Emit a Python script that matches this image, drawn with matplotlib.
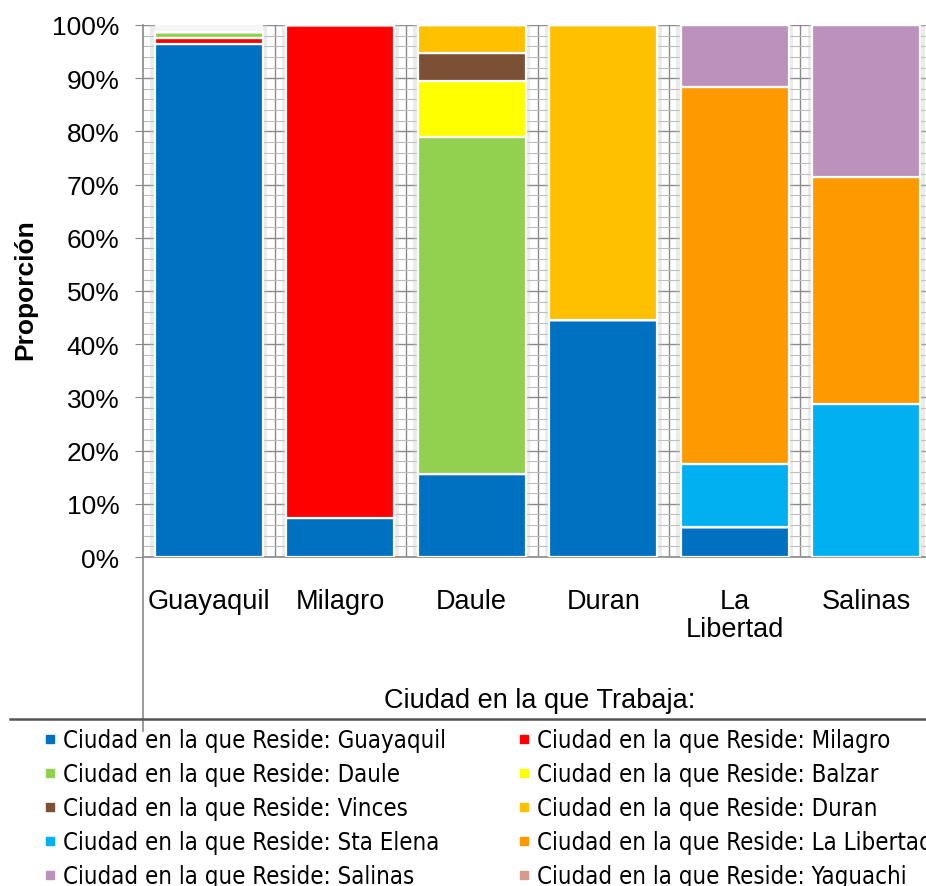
import matplotlib
matplotlib.use("Agg")
import matplotlib.pyplot as plt
from matplotlib import font_manager as fm
from matplotlib.lines import Line2D
import numpy as np

plt.rcParams['font.family'] = ['Liberation Sans', 'DejaVu Sans']

# --- DATA ---
work_cities = ["Guayaquil", "Milagro", "Daule", "Duran", "La\nLibertad", "Salinas"]
reside_names = ["Guayaquil", "Milagro", "Daule", "Balzar", "Vinces",
                "Duran", "Sta Elena", "La Libertad", "Salinas", "Yaguachi"]
reside_colors = ["#0070C0", "#FF0000", "#92D050", "#FFFF00", "#7B5034",
                 "#FFC000", "#00B0F0", "#FF9900", "#BC92BD", "#D99A8E"]

# share (%) of each residence city, per work city
res_guayaquil = [96.4, 7.3, 15.6, 44.5, 5.7, 0.0]
res_milagro = [1.2, 92.7, 0.0, 0.0, 0.0, 0.0]
res_daule = [1.1, 0.0, 63.3, 0.0, 0.0, 0.0]
res_balzar = [0.0, 0.0, 10.5, 0.0, 0.0, 0.0]
res_vinces = [0.0, 0.0, 5.3, 0.0, 0.0, 0.0]
res_duran = [0.0, 0.0, 5.3, 55.5, 0.0, 0.0]
res_sta_elena = [0.0, 0.0, 0.0, 0.0, 11.8, 28.8]
res_la_libertad = [0.0, 0.0, 0.0, 0.0, 70.8, 42.7]
res_salinas = [0.0, 0.0, 0.0, 0.0, 11.7, 28.5]
res_yaguachi = [0.0, 0.0, 0.0, 0.0, 0.0, 0.0]

series = [res_guayaquil, res_milagro, res_daule, res_balzar, res_vinces,
          res_duran, res_sta_elena, res_la_libertad, res_salinas, res_yaguachi]

# pick a narrow font for the legend if one is installed
narrow = [f for f in fm.fontManager.ttflist
          if ('Narrow' in f.name) or (f.stretch in ('condensed', 'semi-condensed')
                                      and f.name in ('DejaVu Sans', 'Liberation Sans'))]
if any(f.name == 'Liberation Sans Narrow' for f in narrow):
    leg_font = {'family': 'Liberation Sans Narrow', 'size': 18.5}
elif any(f.name == 'DejaVu Sans' for f in narrow):
    leg_font = {'family': 'DejaVu Sans', 'stretch': 'condensed', 'size': 17.2}
else:
    leg_font = {'family': 'Liberation Sans', 'size': 16}

W, H = 926, 887
fig = plt.figure(figsize=(W / 100, H / 100), dpi=100)
ax = fig.add_axes([143 / W, 329 / H, 789 / W, 532 / H])

x = np.arange(len(work_cities))
bar_w = 0.82

# grid in the gaps (Excel-like background)
ax.set_yticks(np.arange(0, 101, 10))
ax.set_yticks(np.arange(0, 101, 2), minor=True)
ax.set_xticks(x + 0.5, minor=True)
ax.yaxis.grid(True, which='major', color='#8a8a8a', lw=1.0, zorder=0)
ax.yaxis.grid(True, which='minor', color='#bdbdbd', lw=0.8, zorder=0)
ax.xaxis.grid(True, which='minor', color='#8a8a8a', lw=1.0, zorder=0)
ax.set_axisbelow(True)

# soft shadow around each column + light column background
ax.bar(x, 100, width=bar_w + 0.07, color='#c8c8c8', alpha=0.35, zorder=1, lw=0)
ax.bar(x, 100, width=bar_w, color='#f6f6f6', zorder=1.5, lw=0)

bottom = np.zeros(len(x))
for vals, col in zip(series, reside_colors):
    vals = np.array(vals)
    ax.bar(x, vals, width=bar_w, bottom=bottom, color=col,
           edgecolor='white', linewidth=1.6, zorder=3)
    bottom += vals

ax.set_xlim(-0.5, 5.5)
ax.set_ylim(0, 100)
ax.set_yticklabels([f"{v}%" for v in range(0, 101, 10)], fontsize=19)
ax.set_xticks(x)
ax.set_xticklabels(work_cities, fontsize=19.5, linespacing=1.1)
ax.tick_params(axis='y', which='major', length=6, color='#8a8a8a', pad=11)
ax.tick_params(axis='y', which='minor', length=0)
ax.tick_params(axis='x', which='both', length=0, pad=22)

for s in ['top', 'right']:
    ax.spines[s].set_visible(False)
ax.spines['left'].set_visible(False)
ax.spines['bottom'].set_color('#8a8a8a')
ax.spines['bottom'].set_linewidth(1.2)

# left axis line continuing down through the label area
fig.add_artist(Line2D([143 / W, 143 / W], [1 - 26 / H, 1 - 732 / H],
                      color='#8a8a8a', lw=1.2))
# separator above the legend
fig.add_artist(Line2D([10 / W, 1.0], [1 - 720 / H, 1 - 720 / H],
                      color='#555555', lw=1.8))

fig.text(540 / W, 1 - 701 / H, "Ciudad en la que Trabaja:", fontsize=19.5,
         ha='center', va='center')
fig.text(25 / W, 1 - 290 / H, "Proporción", fontsize=19, fontweight='bold',
         rotation=90, ha='center', va='center')

# legend: two columns
def make_handles(idx):
    hs = [Line2D([], [], marker='s', ls='', markersize=6, color=reside_colors[i])
          for i in idx]
    ls = [f"Ciudad en la que Reside: {reside_names[i]}" for i in idx]
    return hs, ls

cols = [([0, 2, 4, 6, 8], 44), ([1, 3, 5, 7, 9], 518)]
for idx, xpos in cols:
    hs, ls = make_handles(idx)
    fig.legend(hs, ls, loc='upper left', bbox_to_anchor=(xpos / W, 1 - 729 / H),
               frameon=False, prop=leg_font, handlelength=0.5,
               handletextpad=0.3, labelspacing=0.42, borderpad=0,
               borderaxespad=0)

fig.savefig("out.png", dpi=100)
